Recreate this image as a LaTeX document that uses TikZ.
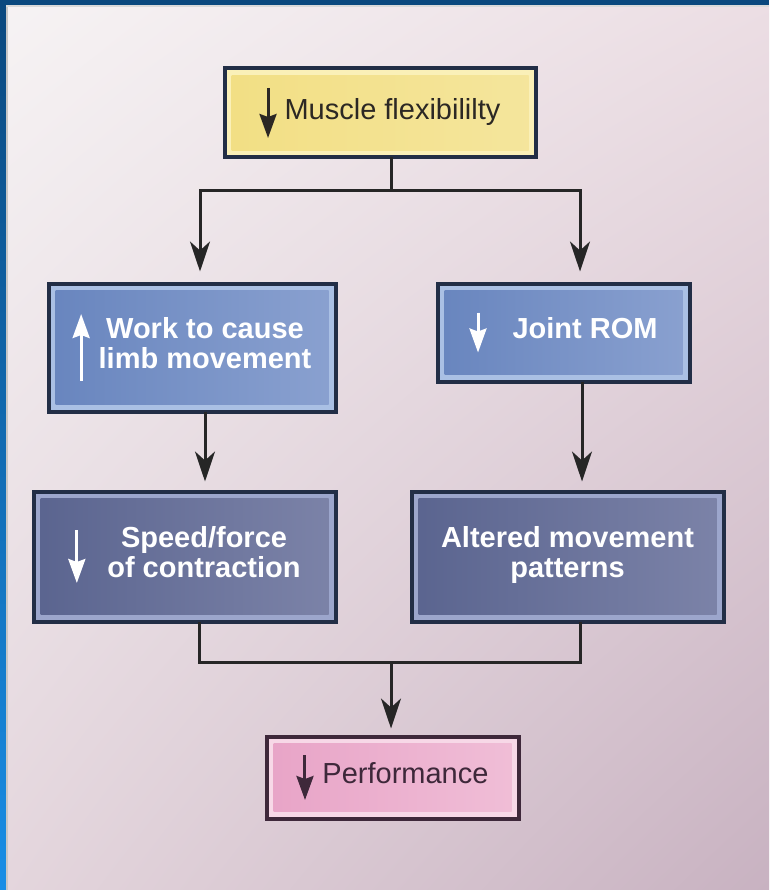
\documentclass[tikz,border=0pt]{standalone}
\usepackage{fontspec}
\setmainfont{Liberation Sans}
\usepackage{tikz}
\usetikzlibrary{arrows.meta,calc,positioning,shadings}
\definecolor{navyEdge}{RGB}{10, 72, 126}
\definecolor{azulClaro}{RGB}{24, 142, 230}
\definecolor{grisLinea}{RGB}{38, 38, 38}
\definecolor{fondoA}{RGB}{246, 243, 244}
\definecolor{fondoB}{RGB}{236, 222, 228}
\definecolor{fondoC}{RGB}{228, 214, 221}
\definecolor{fondoD}{RGB}{200, 178, 193}
\definecolor{marcoOscuro}{RGB}{34, 46, 70}
\definecolor{amarillo}{RGB}{242, 223, 132}
\definecolor{amarilloClaro}{RGB}{250, 240, 184}
\definecolor{azulMedio}{RGB}{104, 133, 190}
\definecolor{azulLuz}{RGB}{138, 161, 208}
\definecolor{azulBorde}{RGB}{170, 192, 228}
\definecolor{pizarra}{RGB}{90, 100, 143}
\definecolor{pizarraLuz}{RGB}{124, 131, 168}
\definecolor{pizarraBorde}{RGB}{156, 166, 204}
\definecolor{rosa}{RGB}{232, 164, 199}
\definecolor{rosaLuz}{RGB}{240, 190, 215}
\definecolor{rosaBorde}{RGB}{247, 216, 231}
\definecolor{textoOscuro}{RGB}{44, 40, 36}
\definecolor{textoRosa}{RGB}{62, 40, 58}
\tikzstyle{edge}  =[draw=grisLinea, line width=3pt]
\tikzstyle{arrow} =[edge, -{Stealth[length=30pt,width=20pt,inset=9pt]}]
\tikzstyle{box}   =[rectangle, line width=4pt, inner sep=0pt,
                    outer sep=0pt, font=\fontsize{29}{30}\selectfont]
\tikzset{ring/.style n args={4}{draw=#1, fill=#2,
    path picture={\shade[left color=#3, right color=#4]
      ([shift={(7pt,-7pt)}]path picture bounding box.north west) rectangle
      ([shift={(-7pt,7pt)}]path picture bounding box.south east);}}}
\tikzstyle{yellowbox}=[box, ring={marcoOscuro}{amarilloClaro}{amarillo}{amarillo!80!white},
                    text=textoOscuro]
\tikzstyle{topbox}=[box, ring={marcoOscuro}{azulBorde}{azulMedio}{azulLuz},
                    text=white, font=\fontsize{29}{30}\selectfont\bfseries]
\tikzstyle{lowbox}=[box, ring={marcoOscuro}{pizarraBorde}{pizarra}{pizarraLuz},
                    text=white, font=\fontsize{29}{30}\selectfont\bfseries]
\tikzstyle{pinkbox}=[box, ring={textoRosa}{rosaBorde}{rosa}{rosaLuz},
                    text=textoRosa]
% small arrows printed inside the boxes
\newcommand{\dnglyph}[2]{$\vcenter{\hbox{\tikz[x=1pt,y=1pt]
  \draw[draw=#1, fill=#1, line width=3pt,
    -{Stealth[length=24pt,width=17pt,inset=3pt]}] (0,#2) -- (0,0);}}$}
\newcommand{\upglyph}[2]{$\vcenter{\hbox{\tikz[x=1pt,y=1pt]
  \draw[draw=#1, fill=#1, line width=3pt,
    -{Stealth[length=24pt,width=17pt,inset=3pt]}] (0,0) -- (0,#2);}}$}
\begin{document}
\begin{tikzpicture}[x=1pt,y=-1pt]

        % background and frame
        \shade[upper left=fondoA, upper right=fondoB, lower left=fondoC,
               lower right=fondoD] (0,0) rectangle (769,890);
        \fill[navyEdge] (0,0) rectangle (769,5);
        \shade[top color=navyEdge, bottom color=azulClaro] (0,0) rectangle (6,890);
        \fill[gray!45] (6,5) rectangle (8,890);
        \fill[gray!30] (6,5) rectangle (769,7);

        % boxes
        \draw (380,113) node(flex)[yellowbox, minimum width=311pt, minimum height=89pt]
            {\dnglyph{textoOscuro}{50}\hspace{8pt}Muscle flexibililty};
        \draw (192,347.5) node(work)[topbox, minimum width=287pt, minimum height=128pt]
            {\upglyph{white}{67}\hspace{9pt}\begin{tabular}{@{}c@{}}Work to cause\\limb movement\end{tabular}};
        \draw (563.5,332.5) node(rom)[topbox, minimum width=252pt, minimum height=98pt]
            {\dnglyph{white}{40}\hspace{26pt}Joint ROM};
        \draw (184.5,556.5) node(speed)[lowbox, minimum width=302pt, minimum height=130pt]
            {\dnglyph{white}{53}\hspace{22pt}\begin{tabular}{@{}c@{}}Speed/force\\of contraction\end{tabular}};
        \draw (567.5,556.5) node(alter)[lowbox, minimum width=312pt, minimum height=130pt]
            {\begin{tabular}{@{}c@{}}Altered movement\\patterns\end{tabular}};
        \draw (392.5,777.5) node(perf)[pinkbox, minimum width=252pt, minimum height=82pt]
            {\dnglyph{textoRosa}{45}\hspace{9pt}Performance};

        % connectors
        \coordinate (split) at (391,191);
        \coordinate (join) at (391,662);

        \draw [edge] ([xshift=11pt]flex.south) -- (split);
        \draw [arrow] (split) -| ([xshift=8pt,yshift=12pt]work.north);
        \draw [arrow] (split) -| ([xshift=16.5pt,yshift=12pt]rom.north);

        \draw [arrow] ([xshift=13pt]work.south) -- ([xshift=20.5pt,yshift=10pt]speed.north);
        \draw [arrow] ([xshift=18.5pt]rom.south) -- ([xshift=14.5pt,yshift=10pt]alter.north);

        \draw [edge] ([xshift=14.5pt]speed.south) |- (join) -| ([xshift=12.5pt]alter.south);
        \draw [arrow] (join) -- ([xshift=-1.5pt,yshift=8pt]perf.north);

    \end{tikzpicture}
\end{document}
